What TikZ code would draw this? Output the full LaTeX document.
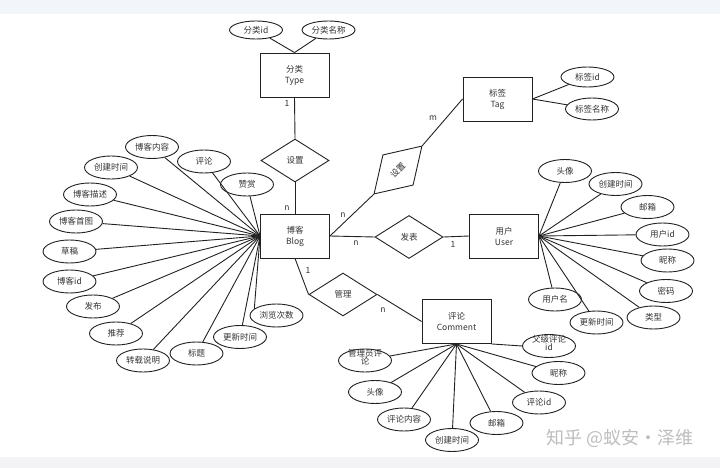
\documentclass[tikz,border=0pt]{standalone}
\usepackage{fontspec}
\setmainfont{Noto Sans CJK SC}
\usetikzlibrary{shapes.geometric}
\definecolor{ink}{HTML}{222222}
\definecolor{txt}{HTML}{333333}
\definecolor{topband}{HTML}{F2F5F9}
\definecolor{botband}{HTML}{F3F3F6}
\definecolor{wm}{HTML}{BDBDBD}
\newcommand{\twoline}[2]{\raisebox{0pt}[0pt][0pt]{\begin{tabular}{@{}c@{}}#1\\[-3pt]#2\end{tabular}}}
\begin{document}
\begin{tikzpicture}[x=1pt,y=-1pt,
  every node/.style={font=\fontsize{8.5pt}{11pt}\selectfont, text=txt},
  attrbox/.style={draw=ink, line width=0.9pt, ellipse, minimum width=53pt, minimum height=23pt, inner sep=0pt},
  entbox/.style={draw=ink, line width=0.9pt, rectangle, minimum width=69pt, minimum height=44pt, inner sep=0pt, align=center},
  relbox/.style={draw=ink, line width=0.9pt, diamond, minimum width=68pt, minimum height=43pt, inner sep=0pt},
  cardlbl/.style={inner sep=0pt},
  conn/.style={draw=ink, line width=0.9pt}]
\useasboundingbox (0,0) rectangle (720,468);
\fill[topband] (0,0) rectangle (720,14);
\fill[botband] (0,457) rectangle (720,468);

% entities
\node[entbox] (type) at (294.5,75) {分类\\Type};
\node[entbox] (blog) at (295,236) {博客\\Blog};
\node[entbox] (tag) at (497.5,99) {标签\\Tag};
\node[entbox] (user) at (504,236) {用户\\User};
\node[entbox] (comment) at (456.5,321.5) {评论\\Comment};

% relationships
\node[relbox] (typerel) at (295,160.5) {设置};
\node[relbox, rotate=45] (tagrel) at (398,170) {设置};
\node[relbox] (pubrel) at (409,237) {发表};
\node[relbox] (mgrel) at (343,294.5) {管理};

% type attributes
\node[attrbox, minimum height=18pt] (flid) at (256,30) {分类id};
\node[attrbox, minimum height=18pt] (flmc) at (328.5,30) {分类名称};

% tag attributes
\node[attrbox, minimum height=20pt] (bqid) at (587.5,77) {标签id};
\node[attrbox, minimum height=22pt] (bqmc) at (592,109) {标签名称};

% blog attributes
\node[attrbox] (bknr) at (152,147) {博客内容};
\node[attrbox] (bpl) at (204,161.5) {评论};
\node[attrbox] (bcjsj) at (111,167.5) {创建时间};
\node[attrbox] (bzs) at (247,184.5) {赞赏};
\node[attrbox] (bkms) at (90,194.5) {博客描述};
\node[attrbox] (bksl) at (76,221.5) {博客首图};
\node[attrbox] (bcg) at (69.5,251.5) {草稿};
\node[attrbox] (bkid) at (69.5,281.5) {博客id};
\node[attrbox] (bfb) at (93,306.5) {发布};
\node[attrbox] (btj) at (116,333.5) {推荐};
\node[attrbox] (bzzsm) at (143,360.5) {转载说明};
\node[attrbox] (bbt) at (196.5,353.5) {标题};
\node[attrbox] (bgxsj) at (240,337) {更新时间};
\node[attrbox] (bllcs) at (276.5,315.5) {浏览次数};

% user attributes
\node[attrbox] (utx) at (565,171) {头像};
\node[attrbox] (ucjsj) at (615.5,184) {创建时间};
\node[attrbox] (uyx) at (647.5,207) {邮箱};
\node[attrbox] (uid) at (662.5,234.5) {用户id};
\node[attrbox] (unc) at (667.5,260.5) {昵称};
\node[attrbox] (umm) at (666,291) {密码};
\node[attrbox] (ulx) at (653.5,317.5) {类型};
\node[attrbox] (uyhm) at (555,299.5) {用户名};
\node[attrbox] (ugxsj) at (596.5,322.5) {更新时间};

% comment attributes
\node[attrbox] (cfj) at (549,346) {\twoline{父级评论}{id}};
\node[attrbox] (cnc) at (558.5,373) {昵称};
\node[attrbox] (cid) at (539,402.5) {评论id};
\node[attrbox] (cyx) at (496.5,423) {邮箱};
\node[attrbox] (ccjsj) at (452,440) {创建时间};
\node[attrbox] (cnr) at (404,419.5) {评论内容};
\node[attrbox] (ctx) at (375,392) {头像};
\node[attrbox] (cgly) at (365,360.5) {\twoline{管理员评}{论}};

% connectors: type
\draw[conn] (type.north) -- (flid);
\draw[conn] (type.north) -- (flmc);
\draw[conn] (type.south) -- (typerel.north);
\draw[conn] (typerel.south) -- (blog.north);
% tag
\draw[conn] (blog.east) -- (tagrel.west);
\draw[conn] (tagrel.east) -- (tag.west);
\draw[conn] (tag.east) -- (bqid);
\draw[conn] (tag.east) -- (bqmc);
% user
\draw[conn] (blog.east) -- (pubrel.west);
\draw[conn] (pubrel.east) -- (user.west);
% comment
\draw[conn] (blog.south) -- (mgrel.west);
\draw[conn] (mgrel.east) -- (comment.west);

% blog attribute lines
\foreach \a in {bknr,bpl,bcjsj,bzs,bkms,bksl,bcg,bkid,bfb,btj,bzzsm,bbt,bgxsj}
  \draw[conn] (blog.west) -- (\a);
\draw[conn] (blog.west) -- (bllcs.163);

% user attribute lines
\foreach \a in {utx,ucjsj,uyx,uid,unc,umm,ulx,uyhm,ugxsj}
  \draw[conn] (user.east) -- (\a);

% comment attribute lines
\draw[conn] (comment.south east) -- (cfj.west);
\foreach \a in {cnc,cid,cyx,ccjsj,cnr,ctx,cgly}
  \draw[conn] (comment.south) -- (\a);

% cardinality labels
\node[cardlbl] (l1) at (287,103) {1};
\node[cardlbl] (l2) at (287,208) {n};
\node[cardlbl] (l3) at (343,215) {n};
\node[cardlbl] (l4) at (433,118) {m};
\node[cardlbl] (l5) at (356,243) {n};
\node[cardlbl] (l6) at (453,244) {1};
\node[cardlbl] (l7) at (308,270) {1};
\node[cardlbl] (l8) at (383,310) {n};

% watermark
\node[font=\fontsize{18pt}{20pt}\selectfont, text=wm] (wmark) at (620,438) {知乎 @蚁安·泽维};
\end{tikzpicture}
\end{document}
